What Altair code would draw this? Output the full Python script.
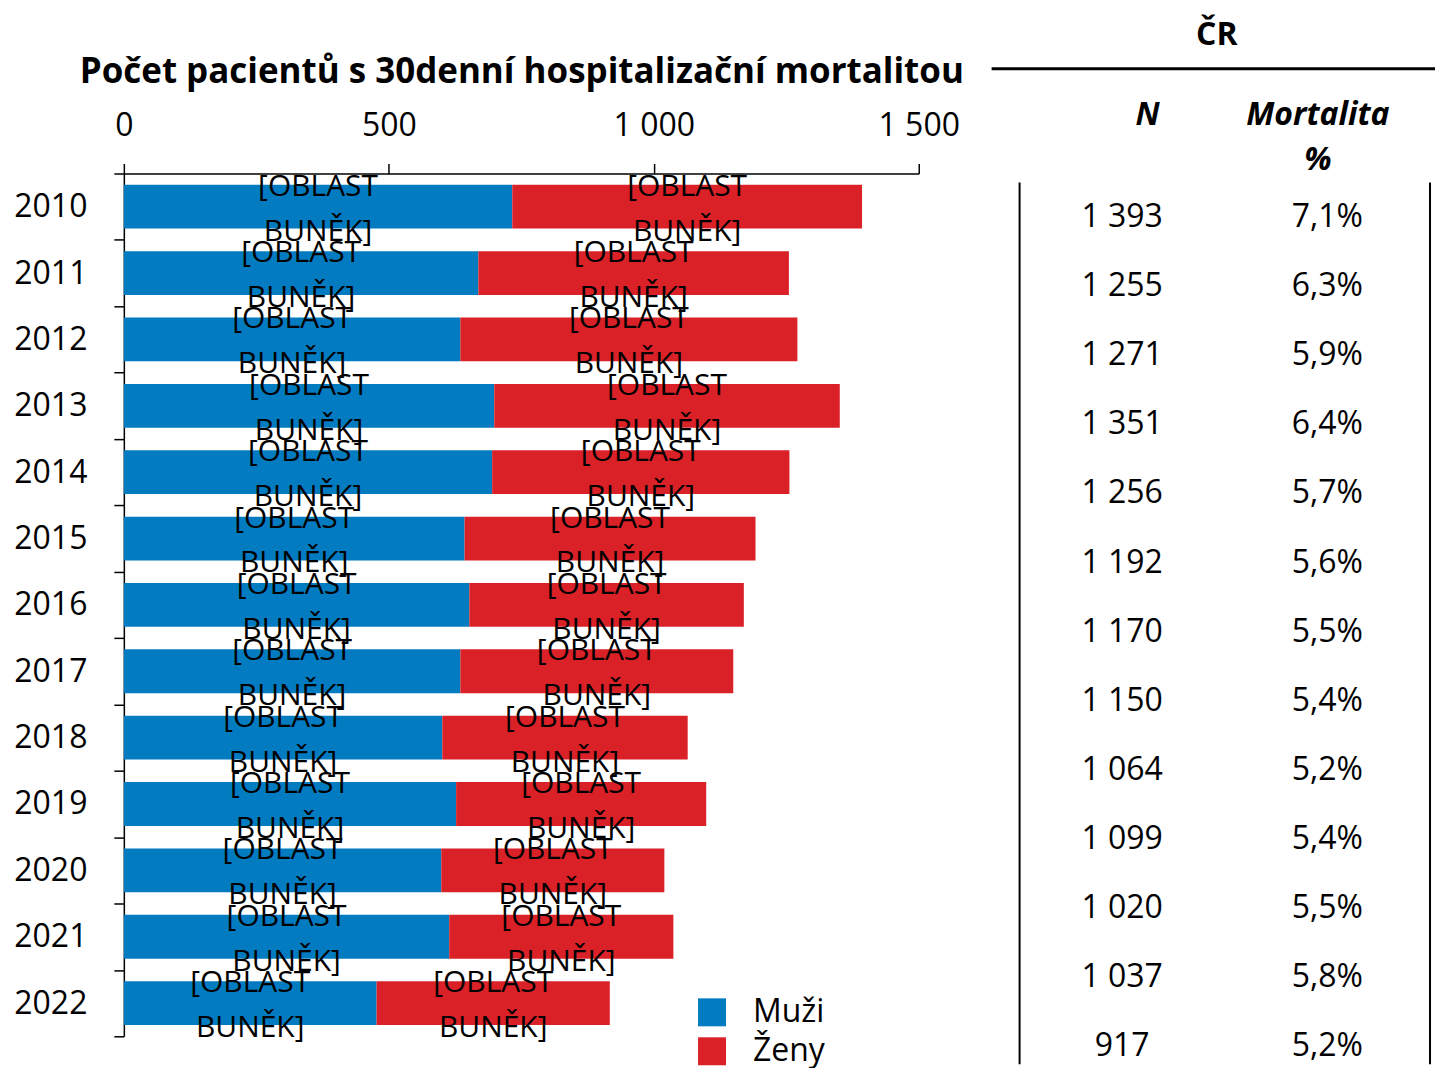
import altair as alt
import pandas as pd

# ---------------- data ----------------
years = ["2010", "2011", "2012", "2013", "2014", "2015", "2016",
         "2017", "2018", "2019", "2020", "2021", "2022"]
men = [733, 669, 635, 699, 695, 643, 652, 635, 601, 627, 599, 614, 477]
women = [660, 586, 636, 652, 561, 549, 518, 515, 463, 472, 421, 423, 440]
totals = [1393, 1255, 1271, 1351, 1256, 1192, 1170, 1150, 1064, 1099, 1020, 1037, 917]
mortality = [7.1, 6.3, 5.9, 6.4, 5.7, 5.6, 5.5, 5.4, 5.2, 5.4, 5.5, 5.8, 5.2]
series = ["Muži", "Ženy"]
series_colors = ["#037bc1", "#da2128"]
cell_label = "[OBLAST\nBUNĚK]"
x_ticks = [0, 500, 1000, 1500]
table_columns = ["N", "Mortalita %"]
chart_title = "Počet pacientů s 30denní hospitalizační mortalitou"
table_title = "ČR"

F = "Open Sans"

rows = []
for i, yr in enumerate(years):
    rows.append({"year": yr, "sex": series[0], "value": men[i], "order": 0, "label": cell_label})
    rows.append({"year": yr, "sex": series[1], "value": women[i], "order": 1, "label": cell_label})
bar_df = pd.DataFrame(rows)

tab_rows = []
for i, yr in enumerate(years):
    tab_rows.append({"year": yr, "column": table_columns[0],
                     "txt": f"{totals[i]:,}".replace(",", " ")})
    tab_rows.append({"year": yr, "column": table_columns[1],
                     "txt": f"{mortality[i]:.1f}".replace(".", ",") + "%"})
tab_df = pd.DataFrame(tab_rows)

# ---------------- left panel ----------------
y_left = alt.Y(
    "year:N", sort=years,
    scale=alt.Scale(paddingInner=0, paddingOuter=0),
    axis=alt.Axis(title=None, tickBand="extent", tickSize=10, tickColor="black",
                  tickWidth=1.5, domainColor="black", domainWidth=1.5,
                  labelFont=F, labelFontSize=32, labelColor="black", labelPadding=27),
)

x_left = alt.X(
    "value:Q", stack="zero",
    scale=alt.Scale(domain=[0, 1500], nice=False),
    axis=alt.Axis(orient="top", values=x_ticks, title=chart_title, titleFont=F,
                  titleFontSize=35, titleFontWeight="bold", titleColor="black",
                  titlePadding=20, labelFont=F, labelFontSize=32, labelColor="black",
                  labelPadding=21, labelFlush=False,
                  labelExpr="replace(format(datum.value, ','), ',', ' ')",
                  tickSize=10, tickColor="black", tickWidth=1.5,
                  domainColor="black", domainWidth=1.5, grid=False),
)

bars = alt.Chart(bar_df).mark_bar(height=alt.RelativeBandSize(band=0.66)).encode(
    x=x_left,
    y=y_left,
    color=alt.Color(
        "sex:N",
        scale=alt.Scale(domain=series, range=series_colors),
        legend=alt.Legend(title=None, orient="none", legendX=573, legendY=824,
                          symbolType="square", symbolSize=784, symbolStrokeWidth=0,
                          symbolOpacity=1, labelFont=F, labelFontSize=32,
                          labelColor="black", labelOffset=25, rowPadding=7, padding=0),
    ),
    order=alt.Order("order:Q"),
)

texts = alt.Chart(bar_df).transform_stack(
    stack="value", groupby=["year"], as_=["v0", "v1"],
    sort=[alt.SortField(field="order", order="ascending")],
).transform_calculate(
    mid="(datum.v0 + datum.v1) / 2"
).mark_text(font=F, fontSize=30, lineHeight=45, lineBreak="\n", color="black",
            baseline="middle", dy=-20).encode(
    x=alt.X("mid:Q"),
    y=alt.Y("year:N", sort=years),
    text=alt.Text("label:N"),
)

left = alt.layer(bars, texts).properties(width=796, height=864)

# ---------------- right panel (table) ----------------
step = 69.2
tab_text = alt.Chart(tab_df).mark_text(font=F, fontSize=32, color="black",
                                       baseline="middle").encode(
    x=alt.X("column:N", sort=table_columns,
            scale=alt.Scale(type="point", padding=0.5),
            axis=alt.Axis(orient="top", title=None, domain=False, ticks=False,
                          labelAngle=0, labelFont=F, labelFontSize=32,
                          labelFontWeight="bold", labelFontStyle="italic",
                          labelColor="black", labelLineHeight=45, labelPadding=74,
                          labelBaseline="top",
                          labelOffset={"condition": {"test": "datum.value == 'N'", "value": 25},
                                       "value": -10},
                          labelExpr="datum.value == 'N' ? 'N' : ['Mortalita', '%']")),
    y=alt.Y("year:N", sort=years,
            scale=alt.Scale(paddingInner=0, paddingOuter=0, range=[9, 9 + 13 * step]),
            axis=None),
    text=alt.Text("txt:N"),
)

frame_df = pd.DataFrame({"k": [0]})
line_left = alt.Chart(frame_df).mark_rule(color="black", strokeWidth=2).encode(
    x=alt.value(0), y=alt.value(9), y2=alt.value(892))
line_right = alt.Chart(frame_df).mark_rule(color="black", strokeWidth=2).encode(
    x=alt.value(411), y=alt.value(9), y2=alt.value(892))
line_top = alt.Chart(frame_df).mark_rule(color="black", strokeWidth=3).encode(
    x=alt.value(-28), x2=alt.value(416), y=alt.value(-105))

right = alt.layer(tab_text, line_left, line_right, line_top).properties(
    width=411, height=892,
    title=alt.TitleParams(table_title, font=F, fontSize=32, fontWeight="bold",
                          color="black", offset=15, anchor="middle", dx=-8),
)

chart = alt.hconcat(left, right, spacing=101, bounds="flush").properties(
    padding={"left": 5, "top": 10, "right": 5, "bottom": 0}
).configure_view(
    stroke=None
).configure_concat(spacing=101)

chart.save("out.html", embed_options={"renderer": "svg", "actions": False})
